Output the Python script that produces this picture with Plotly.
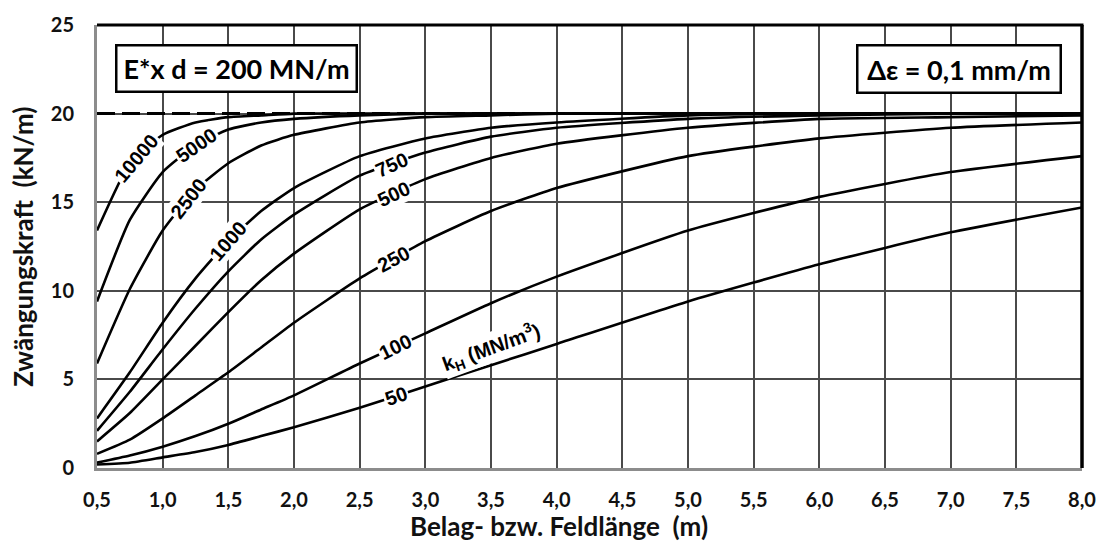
import numpy as np
import plotly.graph_objects as go

# ---------------- data ----------------
length_m = [0.5, 0.75, 1.0, 1.25, 1.5, 1.75, 2.0, 2.5, 3.0, 3.5, 4.0, 5.0, 6.0, 7.0, 8.0]

kh_50 = [0.2, 0.3, 0.6, 0.9, 1.3, 1.8, 2.3, 3.4, 4.6, 5.8, 7.0, 9.4, 11.5, 13.3, 14.7]
kh_100 = [0.3, 0.7, 1.2, 1.8, 2.5, 3.3, 4.1, 5.9, 7.6, 9.3, 10.8, 13.4, 15.3, 16.7, 17.6]
kh_250 = [0.8, 1.6, 2.8, 4.1, 5.4, 6.8, 8.2, 10.7, 12.8, 14.5, 15.8, 17.6, 18.6, 19.2, 19.5]
kh_500 = [1.5, 3.1, 5.0, 6.9, 8.8, 10.6, 12.1, 14.6, 16.3, 17.5, 18.3, 19.2, 19.7, 19.8, 19.9]
kh_750 = [2.1, 4.3, 6.7, 9.0, 11.1, 12.9, 14.3, 16.5, 17.8, 18.7, 19.2, 19.7, 19.9, 20.0, 20.0]
kh_1000 = [2.8, 5.4, 8.2, 10.7, 12.8, 14.5, 15.8, 17.6, 18.6, 19.2, 19.5, 19.9, 20.0, 20.0, 20.0]
kh_2500 = [5.9, 10.1, 13.4, 15.7, 17.2, 18.2, 18.8, 19.5, 19.8, 19.9, 20.0, 20.0, 20.0, 20.0, 20.0]
kh_5000 = [9.4, 14.0, 16.7, 18.2, 19.1, 19.5, 19.7, 19.9, 20.0, 20.0, 20.0, 20.0, 20.0, 20.0, 20.0]
kh_10000 = [13.4, 17.2, 18.8, 19.5, 19.8, 19.9, 20.0, 20.0, 20.0, 20.0, 20.0, 20.0, 20.0, 20.0, 20.0]

max_force_x = [0.5, 8.0]
max_force_y = [20.0, 20.0]

x_tick_values = [0.5, 1.0, 1.5, 2.0, 2.5, 3.0, 3.5, 4.0, 4.5, 5.0, 5.5, 6.0, 6.5, 7.0, 7.5, 8.0]
x_tick_labels = ["0,5", "1,0", "1,5", "2,0", "2,5", "3,0", "3,5", "4,0", "4,5", "5,0",
                 "5,5", "6,0", "6,5", "7,0", "7,5", "8,0"]
y_tick_values = [0, 5, 10, 15, 20, 25]
y_tick_labels = ["0", "5", "10", "15", "20", "25"]

curve_names = ["50", "100", "250", "500", "750", "1000", "2500", "5000", "10000"]
curve_values = [kh_50, kh_100, kh_250, kh_500, kh_750, kh_1000, kh_2500, kh_5000, kh_10000]

# label placement (position along the curve, rotation)
label_at_x = [2.78, 2.77, 2.76, 2.76, 2.74, 1.50, 1.20, 1.26, 0.80]
label_angle = [-19, -26, -28, -25, -24, -49, -52, -35, -50]

# ---------------- figure ----------------
fig = go.Figure()

fig.add_trace(go.Scatter(
    x=max_force_x, y=max_force_y, mode="lines",
    line=dict(color="black", width=3, dash="18px,7px"),
    hoverinfo="skip", showlegend=False))

for name, vals in zip(curve_names, curve_values):
    fig.add_trace(go.Scatter(
        x=length_m, y=vals, mode="lines", name=name,
        line=dict(color="black", width=2.6, shape="spline", smoothing=0.5),
        showlegend=False))

label_font = dict(family="Liberation Sans", size=20, color="black", weight="bold")
for name, vals, lx, ang in zip(curve_names, curve_values, label_at_x, label_angle):
    fig.add_annotation(
        x=lx, y=float(np.interp(lx, length_m, vals)), xref="x", yref="y",
        text=name, showarrow=False, textangle=ang,
        font=label_font, bgcolor="white", borderpad=1)

fig.add_annotation(
    x=3.5, y=6.8, xref="x", yref="y",
    text="k<sub>H</sub> (MN/m<sup>3</sup>)", showarrow=False, textangle=-20,
    font=label_font, bgcolor="white", borderpad=0)

box_font = dict(family="Lato", size=27, color="black", weight="bold")
fig.add_annotation(
    x=1.56, y=22.55, xref="x", yref="y", text="E*x d = 200 MN/m",
    showarrow=False, font=box_font, bgcolor="white",
    bordercolor="black", borderwidth=2.5, borderpad=3, width=232, height=38)
fig.add_annotation(
    x=7.064, y=22.53, xref="x", yref="y", text="\u0394\u03b5 = 0,1 mm/m",
    showarrow=False, font=box_font, bgcolor="white",
    bordercolor="black", borderwidth=2.5, borderpad=3, width=195, height=39)

title_font = dict(family="Lato", size=26, color="#111", weight="bold")
fig.add_annotation(
    x=0.469, y=-0.132, xref="paper", yref="paper",
    text="Belag- bzw. Feldl\u00e4nge \u00a0(m)", showarrow=False, font=title_font,
    xanchor="center", yanchor="middle")
fig.add_annotation(
    x=-0.0758, y=0.5, xref="paper", yref="paper",
    text="Zw\u00e4ngungskraft \u00a0(kN/m)", showarrow=False, font=title_font,
    textangle=-90, xanchor="center", yanchor="middle")

# black frame on top and right
fig.add_shape(type="line", xref="paper", yref="paper", x0=0, x1=1.0015, y0=1, y1=1,
              line=dict(color="black", width=3))
fig.add_shape(type="line", xref="paper", yref="paper", x0=1, x1=1, y0=0, y1=1,
              line=dict(color="black", width=3.5))

tick_font = dict(family="Lato", size=20, color="#111", weight="bold")
fig.update_xaxes(
    range=[0.5, 8.0], tickmode="array", tickvals=x_tick_values, ticktext=x_tick_labels,
    showgrid=True, gridcolor="#4a4a4a", gridwidth=1.5, zeroline=False,
    showline=True, linecolor="#8c8c8c", linewidth=3,
    ticks="outside", ticklen=12, tickcolor="rgba(0,0,0,0)", tickfont=tick_font)
fig.update_yaxes(
    range=[0, 25], tickmode="array", tickvals=y_tick_values, ticktext=y_tick_labels,
    showgrid=True, gridcolor="#4a4a4a", gridwidth=1.5, zeroline=False,
    showline=True, linecolor="#8c8c8c", linewidth=3,
    ticks="outside", ticklen=16, tickcolor="rgba(0,0,0,0)", tickfont=tick_font)

fig.update_layout(
    width=1108, height=543,
    margin=dict(l=97, r=21, t=22, b=75),
    paper_bgcolor="white", plot_bgcolor="white",
    showlegend=False)

fig.write_html("out.html")
